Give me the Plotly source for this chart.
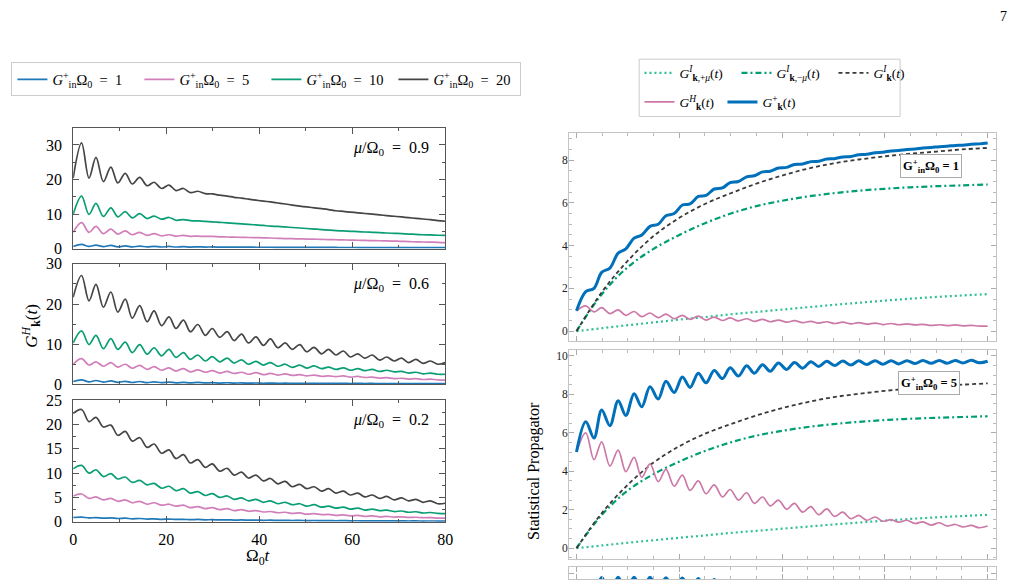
import plotly.graph_objects as go

W, H = 1025, 588
FONT = "Liberation Serif"

# ---------------- data ----------------
# time grid (peaks / troughs of the oscillation)
T_OSC = [0.0, 1.8, 3.4, 4.9, 6.5, 8.1, 9.6, 11.2, 12.7, 14.3, 15.9, 17.4, 19.0, 20.6, 22.1, 23.7,
         25.2, 26.8, 28.4, 29.9, 31.5, 33.1, 34.6, 36.2, 37.7, 39.3, 40.9, 42.4, 44.0, 45.6, 47.1,
         48.7, 50.2, 51.8, 53.4, 54.9, 56.5, 58.1, 59.6, 61.2, 62.7, 64.3, 65.9, 67.4, 69.0, 70.6,
         72.1, 73.7, 75.2, 76.8, 78.4, 80.0]
T_SMOOTH = [0, 5, 10, 15, 20, 25, 30, 35, 40, 45, 50, 55, 60, 65, 70, 75, 80]

# left column, mu/Omega0 = 0.9
L1_G20 = [20.4, 30.6, 20.4, 26.4, 19.4, 23.6, 19.0, 21.8, 18.7, 20.6, 18.2, 19.2, 17.4, 18.4, 16.8, 17.4,
          16.2, 16.6, 15.9, 15.85, 15.45, 15.2, 14.85, 14.6, 14.3, 14.0, 13.75, 13.5, 13.2, 12.9, 12.6,
          12.3, 12.05, 11.8, 11.55, 11.3, 10.95, 10.75, 10.55, 10.35, 10.15, 9.95, 9.75, 9.55, 9.35, 9.15,
          8.95, 8.75, 8.55, 8.35, 8.1, 7.9]
L1_G10 = [9.9, 15.2, 9.9, 13.1, 9.3, 11.8, 9.2, 10.7, 8.9, 10.1, 8.7, 9.4, 8.5, 9.0, 8.2, 8.4,
          8.1, 8.0, 7.85, 7.75, 7.6, 7.45, 7.3, 7.15, 7.0, 6.85, 6.7, 6.5, 6.4, 6.25, 6.1,
          5.95, 5.8, 5.65, 5.5, 5.35, 5.2, 5.1, 5.0, 4.9, 4.8, 4.7, 4.6, 4.5, 4.4, 4.3,
          4.2, 4.1, 4.0, 3.95, 3.85, 3.8]
L1_G5 = [4.7, 7.5, 4.7, 6.4, 4.3, 5.6, 4.2, 5.1, 4.0, 4.7, 3.8, 4.3, 3.7, 4.0, 3.6, 3.8,
         3.55, 3.6, 3.5, 3.5, 3.4, 3.35, 3.3, 3.25, 3.2, 3.15, 3.1, 3.05, 2.95, 2.9, 2.85,
         2.8, 2.75, 2.7, 2.65, 2.6, 2.55, 2.5, 2.45, 2.4, 2.35, 2.3, 2.25, 2.2, 2.15, 2.1,
         2.0, 1.95, 1.9, 1.85, 1.8, 1.7]
L1_G1 = [0.6, 1.2, 0.6, 1.0, 0.55, 0.9, 0.5, 0.8, 0.48, 0.72, 0.46, 0.65, 0.45, 0.6, 0.44, 0.55,
         0.43, 0.5, 0.42, 0.46, 0.41, 0.43, 0.4, 0.4, 0.39, 0.38, 0.37, 0.37, 0.36, 0.35, 0.35,
         0.34, 0.33, 0.33, 0.32, 0.31, 0.31, 0.3, 0.3, 0.29, 0.29, 0.28, 0.28, 0.27, 0.27, 0.26,
         0.26, 0.26, 0.25, 0.25, 0.25, 0.25]

# left column, mu/Omega0 = 0.6
L2_G20 = [21.7, 27.1, 20.8, 24.9, 19.2, 23.0, 18.0, 21.2, 16.5, 19.6, 15.6, 18.3, 14.6, 16.8, 13.9, 16.0,
          13.1, 14.9, 12.2, 13.9, 11.7, 13.1, 10.9, 12.5, 10.3, 11.8, 9.7, 11.3, 9.1, 10.3, 8.7,
          9.9, 8.1, 9.2, 7.6, 8.7, 7.3, 8.3, 6.8, 7.6, 6.5, 7.3, 6.0, 6.8, 5.8, 6.5,
          5.4, 6.2, 5.2, 5.8, 5.0, 5.4]
L2_G10 = [10.3, 13.3, 9.9, 12.2, 8.9, 11.4, 8.7, 10.5, 7.9, 9.9, 7.5, 9.1, 7.1, 8.7, 6.7, 7.9,
          6.2, 7.3, 5.8, 6.9, 5.6, 6.5, 5.3, 6.1, 5.0, 5.7, 4.8, 5.4, 4.5, 5.0, 4.2,
          4.8, 4.05, 4.6, 3.9, 4.3, 3.7, 4.1, 3.5, 3.9, 3.4, 3.7, 3.2, 3.5, 3.1, 3.2,
          2.8, 3.0, 2.6, 2.8, 2.5, 2.5]
L2_G5 = [5.0, 6.4, 4.8, 5.6, 4.5, 5.4, 4.3, 5.0, 4.0, 4.7, 3.7, 4.4, 3.5, 4.1, 3.3, 3.9,
         3.1, 3.6, 3.0, 3.4, 2.8, 3.2, 2.7, 3.0, 2.5, 2.9, 2.4, 2.7, 2.3, 2.6, 2.2,
         2.4, 2.1, 2.3, 2.0, 2.1, 1.9, 2.1, 1.8, 1.95, 1.7, 1.8, 1.55, 1.65, 1.4, 1.5,
         1.3, 1.4, 1.2, 1.3, 1.1, 1.05]
L2_G1 = [0.7, 1.1, 0.6, 0.95, 0.55, 0.85, 0.5, 0.75, 0.45, 0.7, 0.42, 0.62, 0.4, 0.56, 0.37, 0.5,
         0.35, 0.46, 0.33, 0.42, 0.31, 0.38, 0.29, 0.35, 0.27, 0.32, 0.26, 0.3, 0.25, 0.28, 0.24,
         0.26, 0.23, 0.25, 0.22, 0.24, 0.21, 0.23, 0.2, 0.22, 0.2, 0.21, 0.19, 0.2, 0.18, 0.19,
         0.17, 0.18, 0.17, 0.17, 0.16, 0.16]

# left column, mu/Omega0 = 0.2
L3_G20 = [22.3, 23.1, 20.6, 21.5, 19.5, 19.9, 17.8, 18.6, 16.6, 17.3, 15.3, 16.0, 14.1, 14.8, 13.0, 13.8,
          12.1, 12.8, 11.2, 11.9, 10.4, 11.0, 9.6, 10.2, 9.0, 9.6, 8.4, 8.9, 7.8, 8.3, 7.2,
          7.7, 6.8, 7.2, 6.3, 6.8, 5.9, 6.3, 5.5, 5.9, 5.1, 5.5, 4.8, 5.2, 4.5, 4.9,
          4.3, 4.6, 4.0, 4.3, 3.7, 3.8]
L3_G10 = [10.9, 11.6, 10.0, 10.7, 9.3, 9.9, 8.8, 9.2, 8.1, 8.5, 7.6, 7.9, 6.9, 7.3, 6.4, 6.8,
          5.9, 6.2, 5.4, 5.8, 5.0, 5.3, 4.6, 4.9, 4.3, 4.6, 4.0, 4.3, 3.7, 4.0, 3.5,
          3.7, 3.2, 3.5, 3.0, 3.2, 2.8, 3.0, 2.6, 2.8, 2.4, 2.6, 2.3, 2.4, 2.1, 2.2,
          1.95, 2.05, 1.8, 1.9, 1.7, 1.65]
L3_G5 = [5.3, 5.7, 4.8, 5.1, 4.5, 4.8, 4.2, 4.5, 3.9, 4.2, 3.6, 3.9, 3.4, 3.6, 3.2, 3.4,
         2.9, 3.1, 2.7, 2.9, 2.5, 2.7, 2.3, 2.5, 2.15, 2.3, 2.0, 2.1, 1.85, 1.95, 1.7,
         1.8, 1.55, 1.65, 1.45, 1.5, 1.3, 1.4, 1.2, 1.3, 1.1, 1.2, 1.0, 1.1, 0.95, 1.0,
         0.9, 0.92, 0.82, 0.85, 0.75, 0.72]
L3_G1 = [0.87, 0.95, 0.78, 0.85, 0.72, 0.78, 0.66, 0.72, 0.6, 0.66, 0.55, 0.6, 0.5, 0.55, 0.46, 0.5,
         0.42, 0.46, 0.39, 0.42, 0.36, 0.39, 0.33, 0.36, 0.31, 0.33, 0.29, 0.31, 0.27, 0.29, 0.25,
         0.27, 0.23, 0.25, 0.22, 0.23, 0.2, 0.22, 0.19, 0.2, 0.18, 0.19, 0.17, 0.18, 0.16, 0.17,
         0.15, 0.16, 0.14, 0.15, 0.13, 0.13]

# right column: smooth propagators (same in every panel)
GI_K = [0, 1.85, 3.3, 4.45, 5.3, 5.95, 6.45, 6.9, 7.28, 7.6, 7.85, 8.03, 8.18, 8.3, 8.4, 8.5, 8.57]
GI_MINUS = [0, 1.75, 3.0, 3.85, 4.5, 5.05, 5.5, 5.85, 6.1, 6.3, 6.45, 6.57, 6.66, 6.73, 6.78, 6.82, 6.86]
GI_PLUS = [0, 0.14, 0.28, 0.41, 0.54, 0.66, 0.79, 0.9, 1.01, 1.12, 1.23, 1.33, 1.43, 1.52, 1.6, 1.67, 1.73]

# right column, G_in Omega0 = 1
R1_GPLUS = [0.95, 1.85, 2.0, 2.75, 2.95, 3.65, 3.85, 4.35, 4.5, 4.9, 5.0, 5.4, 5.5, 5.9, 5.95, 6.3,
            6.35, 6.65, 6.7, 6.95, 7.0, 7.22, 7.27, 7.45, 7.48, 7.63, 7.66, 7.8, 7.82, 7.93, 7.95,
            8.05, 8.07, 8.15, 8.17, 8.25, 8.27, 8.35, 8.37, 8.43, 8.45, 8.5, 8.52, 8.57, 8.59, 8.63,
            8.65, 8.69, 8.7, 8.74, 8.76, 8.8]
R1_GH = [0.95, 1.18, 0.9, 1.1, 0.82, 1.0, 0.74, 0.92, 0.68, 0.85, 0.63, 0.8, 0.58, 0.74, 0.55, 0.7,
         0.52, 0.66, 0.5, 0.62, 0.48, 0.58, 0.46, 0.55, 0.44, 0.52, 0.42, 0.49, 0.4, 0.46, 0.38,
         0.44, 0.36, 0.42, 0.34, 0.4, 0.33, 0.38, 0.31, 0.36, 0.3, 0.34, 0.29, 0.32, 0.27, 0.3,
         0.26, 0.29, 0.25, 0.27, 0.24, 0.24]

# right column, G_in Omega0 = 5
R2_GPLUS = [5.0, 6.58, 5.73, 7.18, 6.37, 7.67, 6.9, 8.03, 7.35, 8.4, 7.76, 8.68, 8.1, 8.9, 8.36, 9.1,
            8.6, 9.24, 8.82, 9.38, 8.95, 9.49, 9.1, 9.54, 9.2, 9.63, 9.29, 9.66, 9.36, 9.7, 9.45,
            9.72, 9.5, 9.73, 9.52, 9.74, 9.55, 9.75, 9.57, 9.75, 9.58, 9.75, 9.6, 9.76, 9.61, 9.76,
            9.62, 9.76, 9.63, 9.77, 9.64, 9.72]
R2_GH = [5.0, 6.0, 4.6, 5.53, 4.27, 5.1, 3.98, 4.72, 3.68, 4.38, 3.46, 4.1, 3.22, 3.8, 3.0, 3.5,
         2.83, 3.29, 2.66, 3.05, 2.5, 2.88, 2.33, 2.66, 2.2, 2.5, 2.02, 2.33, 1.87, 2.16, 1.74,
         2.04, 1.65, 1.87, 1.53, 1.7, 1.45, 1.62, 1.4, 1.48, 1.35, 1.45, 1.28, 1.37, 1.2, 1.32,
         1.15, 1.23, 1.1, 1.18, 1.06, 1.15]

# right column, third panel (only its top edge is on the page)
R3_GPLUS = [8.0, 9.55, 8.9, 9.79, 9.0, 9.8, 9.05, 9.8, 9.1, 9.8, 9.1, 9.78, 9.1, 9.76, 9.1, 9.73,
            9.1, 9.68, 9.1, 9.63, 9.05, 9.58, 9.0, 9.52, 8.98, 9.46]

LEFT_SERIES_NAMES = ["1", "5", "10", "20"]
MU_LABELS = ["0.9", "0.6", "0.2"]
RIGHT_BOX_LABELS = ["1", "5"]

# ---------------- styling ----------------
C_BLUE = "#1f78b8"
C_PINK = "#d17fba"
C_GREEN = "#0a9e74"
C_GRAY = "#454545"
R_BLUE = "#0070bb"
R_PINK = "#cc79a7"
R_DOT = "#2fbf96"
R_DASHDOT = "#009e73"
R_DASH = "#3a3a3a"
EQ = "\u2002=\u2002"

def px_x(p):
    return p / W

def px_y(p):
    return 1 - p / H

fig = go.Figure()

LEFT_X = [px_x(70), px_x(446.5)]
LEFT_Y = [[px_y(247.7), px_y(123.3)], [px_y(387.5), px_y(263.5)], [px_y(529), px_y(404)]]
LEFT_YR = [[0, 35], [0, 30], [0, 25]]
LEFT_DT = [10, 10, 5]
LEFT_DATA = [[L1_G1, L1_G5, L1_G10, L1_G20],
             [L2_G1, L2_G5, L2_G10, L2_G20],
             [L3_G1, L3_G5, L3_G10, L3_G20]]
LEFT_COLORS = [C_BLUE, C_PINK, C_GREEN, C_GRAY]

for p in range(3):
    ax = "" if p == 0 else str(p + 1)
    for s in range(4):
        fig.add_trace(go.Scatter(
            x=T_OSC, y=LEFT_DATA[p][s], mode="lines",
            line=dict(color=LEFT_COLORS[s], width=1.7, shape="spline", smoothing=1.0),
            name="<i>G</i><sup>+</sup><sub>in</sub>Ω<sub>0</sub>" + EQ + LEFT_SERIES_NAMES[s],
            showlegend=(p == 0), legend="legend",
            xaxis="x" + ax, yaxis="y" + ax, hoverinfo="skip"))

RIGHT_X = [px_x(571.7), px_x(1003.3)]
RIGHT_Y = [[px_y(342.7), px_y(128.7)], [px_y(567.3), px_y(351.7)], [0.0, px_y(575.7)]]
RIGHT_YR = [[-0.45, 9.27], [-0.56, 10.33], [9.71, 10.33]]

for p in range(3):
    ax = str(p + 4)
    if p < 2:
        gp = [R1_GPLUS, R2_GPLUS][p]
        gh = [R1_GH, R2_GH][p]
        show = (p == 0)
        fig.add_trace(go.Scatter(x=T_SMOOTH, y=GI_PLUS, mode="lines",
                                 line=dict(color=R_DOT, width=2.2, dash="2px,3px", shape="spline"),
                                 name="<i>G</i><sup><i>I</i></sup><sub><b>k</b>,+<i>μ</i></sub>(<i>t</i>)",
                                 showlegend=show, legend="legend2", xaxis="x" + ax, yaxis="y" + ax, hoverinfo="skip"))
        fig.add_trace(go.Scatter(x=T_SMOOTH, y=GI_MINUS, mode="lines",
                                 line=dict(color=R_DASHDOT, width=2.2, dash="6px,3px,2px,3px", shape="spline"),
                                 name="<i>G</i><sup><i>I</i></sup><sub><b>k</b>,−<i>μ</i></sub>(<i>t</i>)",
                                 showlegend=show, legend="legend2", xaxis="x" + ax, yaxis="y" + ax, hoverinfo="skip"))
        fig.add_trace(go.Scatter(x=T_SMOOTH, y=GI_K, mode="lines",
                                 line=dict(color=R_DASH, width=1.8, dash="4px,3px", shape="spline"),
                                 name="<i>G</i><sup><i>I</i></sup><sub><b>k</b></sub>(<i>t</i>)",
                                 showlegend=show, legend="legend2", xaxis="x" + ax, yaxis="y" + ax, hoverinfo="skip"))
        fig.add_trace(go.Scatter(x=T_OSC, y=gh, mode="lines",
                                 line=dict(color=R_PINK, width=1.7, shape="spline"),
                                 name="<i>G</i><sup><i>H</i></sup><sub><b>k</b></sub>(<i>t</i>)",
                                 showlegend=show, legend="legend3", xaxis="x" + ax, yaxis="y" + ax, hoverinfo="skip"))
        fig.add_trace(go.Scatter(x=T_OSC, y=gp, mode="lines",
                                 line=dict(color=R_BLUE, width=3, shape="spline"),
                                 name="<i>G</i><sup>+</sup><sub><b>k</b></sub>(<i>t</i>)",
                                 showlegend=show, legend="legend3", xaxis="x" + ax, yaxis="y" + ax, hoverinfo="skip"))
    else:
        fig.add_trace(go.Scatter(x=T_OSC[:len(R3_GPLUS)], y=R3_GPLUS, mode="lines",
                                 line=dict(color=R_BLUE, width=3, shape="spline"),
                                 showlegend=False, xaxis="x" + ax, yaxis="y" + ax, hoverinfo="skip"))

layout = dict(
    width=W, height=H, margin=dict(l=0, r=0, t=0, b=0),
    paper_bgcolor="white", plot_bgcolor="white",
    font=dict(family=FONT, color="black"),
    showlegend=True,
)

for p in range(3):
    ax = "" if p == 0 else str(p + 1)
    layout["xaxis" + ax] = dict(
        domain=LEFT_X, range=[0, 80], anchor="y" + ax,
        showline=True, linecolor="#555", linewidth=1.2, mirror="allticks",
        ticks="inside", ticklen=6, tickwidth=1, tickcolor="#555",
        tick0=0, dtick=20, showgrid=False, zeroline=False,
        minor=dict(ticks="inside", ticklen=3, dtick=10, tickcolor="#555", showgrid=False),
        showticklabels=(p == 2), tickfont=dict(size=16, family=FONT), ticklabelstandoff=3)
    layout["yaxis" + ax] = dict(
        domain=LEFT_Y[p], range=LEFT_YR[p], anchor="x" + ax,
        showline=True, linecolor="#555", linewidth=1.2, mirror="allticks",
        ticks="inside", ticklen=6, tickwidth=1, tickcolor="#555",
        tick0=0, dtick=LEFT_DT[p], showgrid=False, zeroline=False,
        minor=dict(ticks="inside", ticklen=3, dtick=LEFT_DT[p] / 2, tickcolor="#555", showgrid=False),
        tickfont=dict(size=16, family=FONT), ticklabelstandoff=7)

for p in range(3):
    ax = str(p + 4)
    layout["xaxis" + ax] = dict(
        domain=RIGHT_X, range=[-1.46, 81.54], anchor="y" + ax,
        showline=True, linecolor="#c4c4c4", linewidth=1, mirror="allticks",
        ticks="inside", ticklen=5, tickwidth=1, tickcolor="#aaa",
        tick0=0, dtick=20, showgrid=False, zeroline=False,
        minor=dict(ticks="inside", ticklen=3, dtick=5, tickcolor="#bbb", showgrid=False),
        showticklabels=False)
    layout["yaxis" + ax] = dict(
        domain=RIGHT_Y[p], range=RIGHT_YR[p], anchor="x" + ax,
        showline=True, linecolor="#c4c4c4", linewidth=1, mirror="allticks",
        ticks="inside", ticklen=5, tickwidth=1, tickcolor="#aaa",
        tick0=0, dtick=2, showgrid=False, zeroline=False,
        minor=dict(ticks="inside", ticklen=2.5, dtick=0.5, tickcolor="#bbb", showgrid=False),
        showticklabels=(p < 2), tickfont=dict(size=11.5, family=FONT, color="#222"), ticklabelstandoff=-2)

layout["legend"] = dict(
    x=px_x(7.5), y=px_y(73.5), xanchor="left", yanchor="middle", orientation="h",
    bordercolor="#cccccc", borderwidth=1, bgcolor="white",
    font=dict(family=FONT, size=14.5), itemwidth=30,
    entrywidth=82, entrywidthmode="pixels")
layout["legend2"] = dict(
    x=px_x(643), y=px_y(67), xanchor="left", yanchor="middle", orientation="h",
    borderwidth=0, bgcolor="rgba(0,0,0,0)", font=dict(family=FONT, size=13.5), itemwidth=30,
    entrywidth=52, entrywidthmode="pixels")
layout["legend3"] = dict(
    x=px_x(643), y=px_y(97), xanchor="left", yanchor="middle", orientation="h",
    borderwidth=0, bgcolor="rgba(0,0,0,0)", font=dict(family=FONT, size=13.5), itemwidth=30,
    entrywidth=38, entrywidthmode="pixels")

layout["shapes"] = [dict(type="rect", xref="paper", yref="paper",
                         x0=px_x(642.7), x1=px_x(906.7), y0=px_y(111.7), y1=px_y(52.7),
                         line=dict(color="#cccccc", width=1), fillcolor="rgba(0,0,0,0)", layer="below")]

ann = []
MU_Y = [145, 285, 425]
for p in range(3):
    ann.append(dict(x=px_x(432), y=px_y(MU_Y[p]), xref="paper", yref="paper",
                    xanchor="right", yanchor="middle", showarrow=False,
                    text="<i>μ</i>/Ω<sub>0</sub>" + EQ + MU_LABELS[p],
                    font=dict(family=FONT, size=16)))
BOX_XY = [(938, 163), (936, 386.5)]
for p in range(2):
    ann.append(dict(x=px_x(BOX_XY[p][0]), y=px_y(BOX_XY[p][1]), xref="paper", yref="paper",
                    xanchor="center", yanchor="middle", showarrow=False,
                    text="<b>G<sup>+</sup><sub>in</sub>Ω<sub>0</sub> = " + RIGHT_BOX_LABELS[p] + "</b>",
                    font=dict(family=FONT, size=12.5), bgcolor="white",
                    bordercolor="#aaaaaa", borderwidth=1, borderpad=2))
ann.append(dict(x=px_x(27.5), y=px_y(327), xref="paper", yref="paper", showarrow=False,
                textangle=-90, xanchor="center", yanchor="middle",
                text="<i>G</i><sup><i>H</i></sup><sub><b>k</b></sub>(<i>t</i>)",
                font=dict(family=FONT, size=17)))
ann.append(dict(x=px_x(258), y=px_y(565), xref="paper", yref="paper", showarrow=False,
                xanchor="center", yanchor="middle",
                text="Ω<sub>0</sub><i>t</i>", font=dict(family=FONT, size=17)))
ann.append(dict(x=px_x(536.5), y=px_y(476.5), xref="paper", yref="paper", showarrow=False,
                textangle=-90, xanchor="center", yanchor="middle",
                text="Statistical Propagator", font=dict(family=FONT, size=16)))
ann.append(dict(x=px_x(1011.5), y=px_y(8.5), xref="paper", yref="paper", showarrow=False,
                xanchor="center", yanchor="middle",
                text="7", font=dict(family=FONT, size=14)))
layout["annotations"] = ann

fig.update_layout(**layout)
fig.write_html("out.html")
